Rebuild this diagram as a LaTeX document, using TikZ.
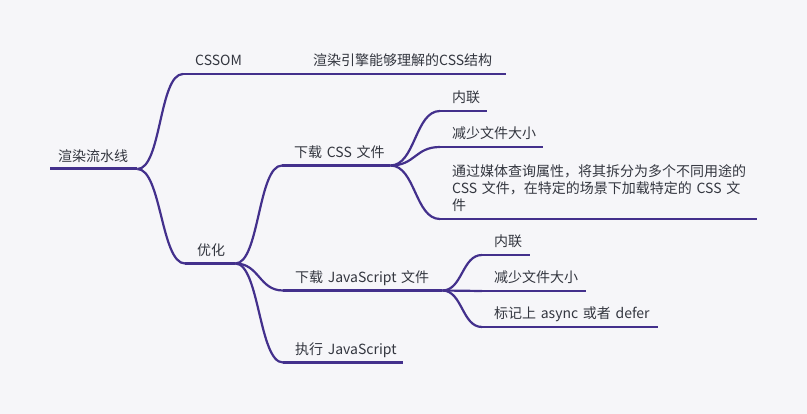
\documentclass[tikz,border=0pt]{standalone}
\usepackage{fontspec}
\setmainfont{Noto Sans CJK SC}
\definecolor{bgpaper}{HTML}{F6F6F9}
\definecolor{branch}{HTML}{43308C}
\definecolor{ink}{HTML}{33363F}
\tikzset{
  topicbase/.style={anchor=south west, inner xsep=12pt, inner ysep=5pt, text depth=3pt,
    align=left, text=ink, font=\fontsize{14}{17}\selectfont},
  topic/.style={topicbase, execute at begin node=\hbox\bgroup, execute at end node=\egroup},
  bar/.style={draw=branch, line width=2.2pt},
  link/.style={draw=branch, line width=2.2pt},
}

\begin{document}
\begin{tikzpicture}[x=1pt,y=-1pt]
\useasboundingbox[fill=bgpaper] (0,0) rectangle (807,414);
% root and first level
\node[topic,inner xsep=8pt,inner ysep=4pt,text width=71pt] (root) at (50,169) {渲染流水线};
\node[topic,text width=55pt] (cssom) at (183,74) {CSSOM};
\node[topic,text width=181pt] (cssomdef) at (301,74) {渲染引擎能够理解的CSS结构};
\node[topic,text width=26pt] (opt) at (185,263.5) {优化};
% optimisation
\node[topic,text width=84pt] (dlcss) at (282,165.5) {下载 CSS 文件};
\node[topic,text width=135pt] (dljs) at (283,290.5) {下载 JavaScript 文件};
\node[topic,text width=96pt] (exjs) at (283,362.5) {执行 JavaScript};
% css leaves
\node[topic,text width=23pt] (cssin) at (440,111) {内联};
\node[topic,text width=79pt] (cssshr) at (440,147) {减少文件大小};
\node[topicbase,text width=293pt,text depth=37pt] (csssplit) at (440,219)
  {通过媒体查询属性，将其拆分为多个不同用途的\\CSS 文件，在特定的场景下加载特定的 CSS 文\\件};
% js leaves
\node[topic,text width=24pt] (jsin) at (482,255) {内联};
\node[topic,text width=80pt] (jsshr) at (482,291) {减少文件大小};
\node[topic,text width=152pt] (jsasync) at (482,327) {标记上 async 或者 defer};

\draw[bar,line width=3pt] (root.south west) -- (root.south east);
\foreach \n in {cssom,cssomdef,opt,dlcss,dljs,exjs,cssin,cssshr,csssplit,jsin,jsshr,jsasync}
  \draw[bar] (\n.south west) -- (\n.south east);
\foreach \a/\b/\d in {root/cssom/24,root/opt/24,cssom/cssomdef/20,opt/dlcss/24,opt/dljs/24,
    opt/exjs/24,dlcss/cssin/25,dlcss/cssshr/25,dlcss/csssplit/25,dljs/jsin/20,dljs/jsshr/20,dljs/jsasync/20}
  \draw[link] (\a.south east) .. controls +(\d,0) and +(-\d,0) .. (\b.south west);
\end{tikzpicture}
\end{document}
